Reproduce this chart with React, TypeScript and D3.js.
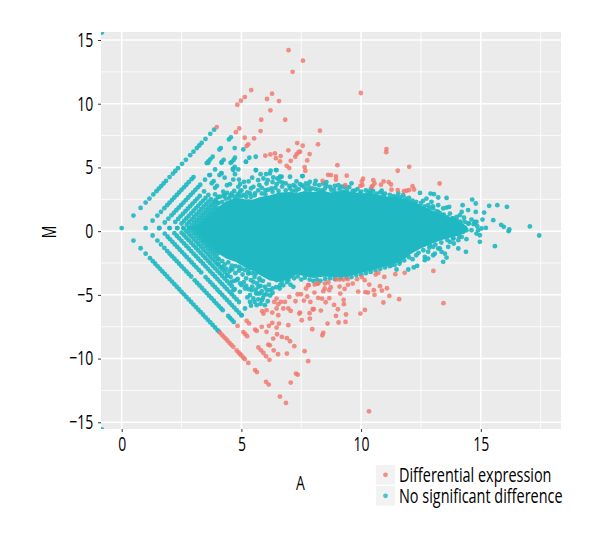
import { useEffect, useRef } from "react";
import * as d3 from "d3";

type Pt = [number, number];

const width = 600;
const height = 540;
const panelLeft = 101;
const panelRight = 561;
const panelTop = 32;
const panelBottom = 429;

const font = "'Open Sans', sans-serif";
const narrow = 0.7; // the original face is condensed, none is installed
const legendNarrow = 0.722;

const majorX = [0, 5, 10, 15];
const minorX = [2.5, 7.5, 12.5, 17.5];
const majorY = [-15, -10, -5, 0, 5, 10, 15];
const minorY = [-12.5, -7.5, -2.5, 2.5, 7.5, 12.5];

const legendLabels = ["Differential expression", "No significant difference"];

// The middle of the cloud is solid from overplotting, single points can't be read there,
// so it is kept as an outline (A, top M, bottom M).
const coreA = [3.05, 3.4, 3.7, 4.1, 4.4, 4.8, 5.1, 5.5, 5.8, 6.2, 6.6, 7, 7.3, 7.6, 8, 8.4, 8.7, 9, 9.4, 9.7, 10.1, 10.4, 10.75, 11.1, 11.45, 11.8, 12.04, 12.46, 13, 13.4, 13.7, 14.1, 14.4];
const coreTop = [0.24, 0.7, 1.25, 1.9, 2.3, 2.55, 2.45, 2.4, 2.6, 2.75, 2.95, 3, 2.9, 3.05, 3, 3.1, 2.95, 3.05, 3.1, 2.95, 2.85, 2.95, 2.75, 2.65, 2.55, 2.45, 2.35, 2, 1.5, 1.2, 1, 0.7, 0.3];
const coreBottom = [0.24, -0.7, -1.2, -1.75, -2.1, -2.35, -2.7, -3.05, -3.4, -3.8, -3.9, -3.7, -3.3, -3.45, -3.6, -3.5, -3.5, -3.55, -3.5, -3.35, -3.15, -3.05, -2.8, -2.65, -2.45, -2.1, -1.75, -1.3, -0.85, -0.6, -0.45, -0.25, 0];

const upperLine0: Pt[] = [[0.49, 1.22], [0.79, 1.82], [1, 2.24], [1.16, 2.56], [1.32, 2.88], [1.45, 3.14], [1.55, 3.34], [1.65, 3.54], [1.75, 3.74], [1.85, 3.94], [2, 4.24], [2.14, 4.52], [2.24, 4.72], [2.35, 4.94], [2.52, 5.28], [2.68, 5.6], [2.86, 5.96], [3, 6.24], [3.14, 6.52], [3.24, 6.72], [3.34, 6.92], [3.5, 7.24], [3.7, 7.64], [3.86, 7.96]];
const upperLine1: Pt[] = [[1, 0.24], [1.29, 0.82], [1.49, 1.22], [1.64, 1.52], [1.78, 1.8], [1.9, 2.04], [2, 2.24], [2.1, 2.44], [2.2, 2.64], [2.3, 2.84], [2.4, 3.04], [2.5, 3.24], [2.6, 3.44], [2.7, 3.64], [2.8, 3.84], [2.92, 4.08], [3, 4.24], [3.55, 5.34], [3.62, 5.48], [3.7, 5.64], [3.8, 5.84], [4.08, 6.4], [4.14, 6.52], [4.48, 7.2], [4.56, 7.36]];
const upperLine2: Pt[] = [[1.57, 0.22], [1.8, 0.68], [1.95, 0.98], [2.08, 1.24], [2.18, 1.44], [2.28, 1.64], [2.38, 1.84], [2.48, 2.04], [2.58, 2.24], [2.68, 2.44], [2.78, 2.64], [2.88, 2.84], [2.98, 3.04], [3.08, 3.24], [3.18, 3.44], [3.28, 3.64], [3.48, 4.04], [3.66, 4.4], [4.18, 5.44], [4.26, 5.6], [4.72, 6.52]];
const upperLine3: Pt[] = [[2, 0.24], [2.24, 0.72], [2.36, 0.96], [2.46, 1.16], [2.56, 1.36], [2.66, 1.56], [2.76, 1.76], [2.86, 1.96], [2.96, 2.16], [3.06, 2.36], [3.16, 2.56], [3.26, 2.76], [3.44, 3.12], [3.76, 3.76], [3.84, 3.92], [4.08, 4.4], [4.16, 4.56], [4.6, 5.44], [4.68, 5.6]];
const upperLine4: Pt[] = [[2.32, 0.24], [2.5, 0.6], [2.6, 0.8], [2.7, 1], [2.8, 1.2], [2.9, 1.4], [3, 1.6], [3.1, 1.8], [3.2, 2], [3.3, 2.2], [3.4, 2.4], [3.5, 2.6], [3.62, 2.84], [3.9, 3.4], [3.98, 3.56], [4.3, 4.2], [4.64, 4.88], [4.72, 5.04]];
const upperLine5: Pt[] = [[2.58, 0.24], [2.72, 0.52], [2.82, 0.72], [2.92, 0.92], [3.02, 1.12], [3.12, 1.32], [3.22, 1.52], [3.32, 1.72], [3.42, 1.92], [3.52, 2.12], [3.62, 2.32], [3.72, 2.52], [3.9, 2.88]];
const upperLine6: Pt[] = [[2.81, 0.24], [2.92, 0.46], [3.02, 0.66], [3.12, 0.86], [3.22, 1.06], [3.32, 1.26], [3.42, 1.46], [3.52, 1.66], [3.62, 1.86], [3.72, 2.06], [3.82, 2.26], [3.92, 2.46], [4.02, 2.66]];
const upperLine7: Pt[] = [[3, 0.24], [3.1, 0.44], [3.2, 0.64], [3.3, 0.84], [3.4, 1.04], [3.5, 1.24], [3.6, 1.44], [3.7, 1.64], [3.8, 1.84], [3.9, 2.04], [4, 2.24]];
const upperLine8: Pt[] = [[3.17, 0.24], [3.27, 0.44], [3.37, 0.64], [3.47, 0.84], [3.57, 1.04], [3.67, 1.24], [3.77, 1.44], [3.87, 1.64], [3.97, 1.84]];

const lowerLine0: Pt[] = [[0.49, -0.74], [0.79, -1.34], [1, -1.76], [1.18, -2.12], [1.3, -2.36], [1.4, -2.56], [1.5, -2.76], [1.6, -2.96], [1.7, -3.16], [1.8, -3.36], [1.9, -3.56], [2, -3.76], [2.1, -3.96], [2.2, -4.16], [2.3, -4.36], [2.4, -4.56], [2.5, -4.76], [2.6, -4.96], [2.7, -5.16], [2.8, -5.36], [2.9, -5.56], [3, -5.76], [3.1, -5.96], [3.2, -6.16], [3.3, -6.36], [3.4, -6.56], [3.5, -6.76], [3.6, -6.96], [3.7, -7.16], [3.8, -7.36], [3.9, -7.56], [4, -7.76], [4.05, -7.86]];
const lowerLine1: Pt[] = [[1.29, -0.34], [1.49, -0.74], [1.64, -1.04], [1.78, -1.32], [1.9, -1.56], [2, -1.76], [2.1, -1.96], [2.2, -2.16], [2.3, -2.36], [2.4, -2.56], [2.5, -2.76], [2.6, -2.96], [2.7, -3.16], [2.8, -3.36], [2.9, -3.56], [3.05, -3.86], [3.15, -4.06], [3.25, -4.26], [3.35, -4.46], [3.45, -4.66], [3.55, -4.86], [3.65, -5.06], [3.75, -5.26], [3.85, -5.46], [3.95, -5.66], [4.05, -5.86], [4.15, -6.06], [4.22, -6.2], [4.45, -6.66], [4.52, -6.8], [4.6, -6.96], [4.68, -7.12]];
const lowerLine2: Pt[] = [[1.57, 0.26], [1.8, -0.2], [1.92, -0.44], [2.02, -0.64], [2.12, -0.84], [2.22, -1.04], [2.32, -1.24], [2.42, -1.44], [2.52, -1.64], [2.62, -1.84], [2.72, -2.04], [2.82, -2.24], [2.92, -2.44], [3.02, -2.64], [3.12, -2.84], [3.22, -3.04], [3.32, -3.24], [3.5, -3.6], [3.6, -3.8], [3.7, -4], [3.8, -4.2], [3.9, -4.4], [4, -4.6], [4.1, -4.8], [4.2, -5], [4.3, -5.2], [4.4, -5.4], [4.5, -5.6], [4.6, -5.8], [4.7, -6], [4.8, -6.2], [4.9, -6.4], [5, -6.6]];
const lowerLine3: Pt[] = [[2, 0.24], [2.2, -0.16], [2.3, -0.36], [2.4, -0.56], [2.5, -0.76], [2.6, -0.96], [2.7, -1.16], [2.8, -1.36], [2.9, -1.56], [3, -1.76], [3.1, -1.96], [3.2, -2.16], [3.3, -2.36], [3.4, -2.56], [3.5, -2.76], [3.6, -2.96], [3.7, -3.16], [3.8, -3.36], [3.9, -3.56], [4, -3.76], [4.1, -3.96], [4.2, -4.16], [4.3, -4.36], [4.4, -4.56], [4.5, -4.76], [4.6, -4.96], [4.7, -5.16], [4.8, -5.36], [4.9, -5.56]];
const lowerLine4: Pt[] = [[2.32, 0.24], [2.5, -0.12], [2.6, -0.32], [2.7, -0.52], [2.8, -0.72], [2.9, -0.92], [3, -1.12], [3.1, -1.32], [3.2, -1.52], [3.3, -1.72], [3.4, -1.92], [3.5, -2.12], [3.6, -2.32], [3.7, -2.52], [3.8, -2.72], [3.9, -2.92], [4, -3.12], [4.1, -3.32], [4.2, -3.52], [4.3, -3.72], [4.4, -3.92], [4.5, -4.12], [4.6, -4.32], [4.72, -4.56]];
const lowerLine5: Pt[] = [[2.58, 0.24], [2.7, 0], [2.8, -0.2], [2.9, -0.4], [3, -0.6], [3.1, -0.8], [3.2, -1], [3.3, -1.2], [3.4, -1.4], [3.5, -1.6], [3.6, -1.8], [3.7, -2], [3.8, -2.2], [3.9, -2.4], [4, -2.6], [4.1, -2.8], [4.2, -3], [4.3, -3.2], [4.42, -3.44]];
const lowerLine6: Pt[] = [[2.81, 0.24], [2.9, 0.06], [3, -0.14], [3.1, -0.34], [3.2, -0.54], [3.3, -0.74], [3.4, -0.94], [3.5, -1.14], [3.6, -1.34], [3.7, -1.54], [3.8, -1.74], [3.9, -1.94], [4, -2.14]];
const lowerLine7: Pt[] = [[3, 0.24], [3.1, 0.04], [3.2, -0.16], [3.3, -0.36], [3.4, -0.56], [3.5, -0.76], [3.6, -0.96], [3.7, -1.16], [3.8, -1.36], [3.9, -1.56], [4, -1.76]];

const cornerPoints: Pt[] = [[0, 0.24], [-0.83, 15.58], [-0.83, -15.55]];

const fringeLeftTop: Pt[] = [[3.62, 5.36], [4.17, 5.36], [4.55, 5.36], [5.19, 5.44], [4.66, 4.79], [4.87, 4.84], [4.73, 4.47], [4.17, 4.53], [3.69, 4.4], [5.61, 4.79], [5.8, 4.47], [5.92, 4.13], [6.19, 4.53], [6.47, 4.79], [6.5, 4.13], [4.66, 4.05], [4.9, 4.05], [4.52, 3.69], [5.11, 3.87], [5.15, 3.48], [4.87, 3.48], [5.5, 3.48], [5.75, 3.61], [6.05, 3.74], [6, 3.22], [6.26, 3.35], [6.47, 3.69], [5.36, 2.96], [5.57, 2.96], [5.85, 2.96], [4.24, 3.09], [4.6, 2.96], [4.94, 3.09], [3.9, 2.3], [4.1, 2.7], [4.3, 2.83], [3.9, 4.84], [4.73, 5.76], [5.08, 6.41], [5.33, 5.76], [5.19, 5.45], [5.6, 5.84], [5.6, 4.79], [6.22, 4.74], [6.44, 4.79], [6.03, 4.48], [7.03, 4.27], [6.33, 4.21], [6.68, 4.27], [7.54, 4.32], [4.4, 3.6], [4.95, 3.7], [5.3, 3.9], [5.45, 4.2], [5.7, 4], [6.1, 4], [6.3, 3.85], [6.6, 3.9], [6.85, 3.75], [7.3, 3.9], [7.7, 3.75], [8.1, 3.95], [8.55, 3.85], [9.6, 3.75], [4.05, 2.2], [4.2, 2.3], [4.35, 2.55], [4.5, 2.6], [4.7, 2.7], [4.85, 2.7], [5, 2.75], [5.2, 2.7], [5.4, 2.7]];
const fringeMidTop: Pt[] = [[6.61, 4.27], [7.56, 4.32], [6.72, 3.8], [7.17, 3.61], [7.45, 3.69], [7.61, 3.48], [7.86, 3.87], [8.07, 3.69], [8.42, 3.74], [8.7, 3.48], [9.05, 3.61], [9.32, 3.48], [8.88, 3.22], [9.74, 3.17], [9.95, 2.96], [10.4, 3.27], [10.86, 3.17], [11.55, 2.96], [11.76, 2.82], [7.03, 3.35], [8.21, 3.22], [8.49, 3.35], [7.28, 3.17], [7.86, 3.22], [9.25, 3.09], [10.93, 2.82], [10.37, 2.96], [10.16, 2.82], [8.42, 3.09], [11.41, 2.56]];
const ridgeTop: Pt[] = [[4.25, 2.75], [4.4, 3], [4.55, 2.8], [4.7, 3.15], [4.85, 2.9], [5, 3.2], [5.1, 2.85], [5.25, 3.05], [5.4, 3.35], [5.55, 2.8], [5.7, 3.2], [5.85, 3.4], [6, 2.9], [6.12, 3.25], [6.3, 3.1], [6.42, 3.4], [6.55, 3.15], [6.7, 3.5], [6.85, 3.2], [7, 3.55], [7.12, 3.15], [7.25, 3.5], [7.4, 3.3], [7.52, 3.6], [7.7, 3.25], [7.8, 3.55], [7.95, 3.35], [8.1, 3.3], [8.25, 3.6], [8.35, 3.2], [8.55, 3.55], [8.75, 3.25], [8.9, 3.55], [9.1, 3.3], [9.2, 3.5], [9.4, 3.2], [9.5, 3.45], [9.65, 3.15], [9.85, 3.3], [10, 3.1], [10.2, 3.2], [10.3, 3.05], [10.5, 3.15], [10.65, 2.95], [10.8, 3.05], [11, 2.95], [11.2, 2.85], [11.35, 2.75], [11.5, 2.7], [11.65, 2.65], [11.85, 2.55], [12, 2.6], [12.15, 2.4], [12.3, 2.3], [12.5, 2.2], [12.65, 1.95], [12.85, 1.8], [13, 1.95], [13.15, 1.55], [13.3, 1.4], [13.45, 1.3], [13.6, 1.1], [13.8, 1], [14, 0.85], [14.15, 0.75], [14.3, 1.05], [14.5, 0.6], [14.7, 0.55], [14.85, 0.4]];
const ridgeBottom: Pt[] = [[4.2, -2.8], [4.35, -2.95], [4.5, -3.15], [4.62, -3], [4.75, -3.3], [4.9, -3.1], [5.05, -3.4], [5.2, -3.7], [5.3, -3.3], [5.4, -3.85], [5.55, -3.6], [5.65, -4.1], [5.8, -4.3], [5.9, -3.9], [6.05, -4.6], [6.15, -4.2], [6.3, -4.5], [6.45, -4.4], [6.6, -4.5], [6.75, -4.25], [6.9, -4], [7.05, -4.2], [7.2, -3.7], [7.35, -3.55], [7.5, -3.8], [7.65, -3.65], [7.85, -3.8], [8, -3.9], [8.15, -3.8], [8.3, -3.9], [8.5, -3.75], [8.7, -3.7], [8.9, -3.75], [9.15, -3.7], [9.4, -3.65], [9.6, -3.6], [9.8, -3.45], [10, -3.4], [10.2, -3.3], [10.4, -3.2], [10.6, -3.05], [10.8, -2.95], [11, -2.85], [11.2, -2.75], [11.4, -2.65], [11.6, -2.55], [11.8, -2.3], [12, -2.05], [12.15, -2.2], [12.4, -1.7], [12.6, -1.5], [12.85, -1.3], [13.1, -1.05], [13.35, -0.9], [13.6, -0.7], [13.85, -0.55], [14.1, -0.45], [4.05, -2.2], [4.2, -2.35], [4.3, -2.6], [4.45, -2.45], [4.6, -2.7], [4.75, -2.75], [4.9, -2.8], [5, -2.95], [5.15, -3.05], [5.3, -3], [5.45, -3.3], [5.6, -3.35], [5.75, -3.7], [4.05, -2.55], [4.55, -2.95]];
const fringeRight: Pt[] = [[12.46, 3], [12.9, 2.95], [13.04, 2.9], [13.22, 2.64], [13.57, 2.61], [13.68, 1.91], [13.57, 1.85], [13.22, 2.04], [14.24, 2.04], [14.64, 2.48], [14.79, 2.17], [14.47, 1.65], [14.79, 1.51], [15.14, 1.46], [15.35, 1.99], [15.69, 2.04], [16.09, 1.91], [15.52, 0.86], [15.07, 0.91], [14.2, 1.51], [13.99, 1.12], [13.71, 1.38], [13.43, 1.78], [12.94, 2.3], [12.73, 2.56], [14.61, 0.91], [14.82, 0.73], [15.21, 0.26], [15.59, -1.18], [14.96, -0.32], [14.96, -0.84], [14.4, -0.63], [14.2, -0.45], [14.38, -1.62], [14.06, -1.36], [13.87, -0.97], [13.57, -2.07], [13.43, -2.41], [13.5, -1.76], [13.08, -1.76], [12.8, -2.15], [12.66, -2.02], [12.3, -1.89], [12.34, -2.72], [12.2, -2.85], [11.97, -3.01], [13.29, -1.36], [13.01, -1.23], [15.85, 0.5], [15.96, 0.34], [16.19, 0.13], [16.16, 0], [17.05, 0.37], [17.44, -0.34]];
const tailPoints: Pt[] = [[13.92, 0.86], [14.13, 1.25], [14.33, 0.73], [14.47, 0.6], [14.75, 0.73], [14.89, 0.08], [15.03, 0.21], [14.82, -0.19], [14.61, 0.08], [14.4, 0.08], [14.26, -0.05], [14.06, -0.71], [13.85, -0.58], [13.71, -0.84], [13.64, -1.23], [13.36, -1.62], [13.22, -1.36], [13.01, -1.89], [12.8, -1.62], [12.66, -2.28], [12.87, -1.1], [13.92, 0.6], [13.71, 0.73], [13.71, 0.34], [13.43, 1.25], [13.22, 1.51], [13.01, 1.78], [12.8, 2.04], [12.59, 2.38], [14.13, 0.6], [13.85, 1]];
const fringeBottom: Pt[] = [[4.59, -3.98], [4.8, -3.85], [5.01, -4.24], [5.15, -4.5], [5.29, -3.32], [5.5, -3.98], [5.71, -4.37], [5.78, -4.89], [5.85, -5.42], [5.5, -5.28], [5.64, -5.81], [5.36, -5.55], [5.15, -6.07], [5.01, -6.59], [5.36, -5.02], [5.98, -4.37], [6.19, -4.63], [6.47, -3.85], [5.78, -3.85], [5.43, -4.63], [4.66, -4.63], [4.94, -4.76], [6.61, -4.24], [5.98, -5.81], [5.61, -4.89], [7.17, -4.37], [6.96, -3.85], [6.68, -3.98], [11.48, -3.01], [11.27, -2.67], [11.62, -2.41], [4.4, -3.5], [4.55, -3.6], [4.7, -3.9], [4.85, -3.75], [4.95, -4.1], [5.1, -4], [5.2, -4.3], [5.3, -4.55], [5.45, -4.35], [5.6, -4.6], [5.7, -4.9], [5.85, -4.7], [5.95, -5], [6.05, -4.95], [6.2, -5.05], [5.25, -5.2], [5.4, -5.85], [5.55, -5.55], [5.7, -5.35], [5.8, -5.7], [5.9, -5.25], [6.1, -5.5], [6.3, -4.85]];

const redTop: Pt[] = [[6.97, 14.2], [7.14, 12.5], [5.41, 11.07], [6.28, 10.79], [5.14, 10.52], [4.98, 10.24], [4.83, 9.92], [6.07, 10.37], [6.57, 10.21], [6.21, 9.48], [5.83, 8.74], [6.83, 8.74], [5.8, 7.85], [4.91, 8.06], [4.77, 7.77], [5.14, 7.33], [5.53, 7.28], [5.29, 6.81], [5.22, 6.68], [3.97, 8.17], [7.33, 6.91], [6.96, 6.34], [7.39, 6.2], [7.31, 6.05], [7.25, 5.84], [6, 5.92], [6.21, 6.02], [6.4, 6.1], [6.44, 5.73], [6.64, 5.89], [6.61, 5.47], [7.06, 5.52], [6.89, 5.13], [7, 4.95], [7.57, 13.38], [9.99, 10.84], [8.28, 7.88], [7.56, 6.7], [8.2, 6.81], [7.85, 6.05], [7.75, 5.55], [7.64, 5.03], [7.67, 4.74], [7.45, 6.23], [9.01, 5.18], [8.62, 4.42], [8.74, 4.4], [8.95, 4.29], [8.95, 4.03], [9.4, 4.35], [8.39, 3.95], [10.08, 4.11], [10.03, 3.9], [9.97, 3.56], [10.05, 3.61], [9.34, 3.61], [10.51, 4], [10.56, 3.74], [10.48, 3.56], [10.44, 3.48], [10.83, 3.64], [10.94, 3.9], [11.15, 3.85], [11.25, 3.66], [11.27, 3.25], [11.53, 3.22], [11.79, 3.14], [11.9, 3.17], [12.01, 3.22], [12.15, 3.53], [12.21, 3.27], [11.53, 4.74], [12.01, 5.05], [11.06, 6.44], [11.05, 6.2], [13.28, 3.74]];
const redBottomRight: Pt[] = [[13.02, -3.12], [13.44, -5.65], [10.33, -14.14], [7.79, -10.2], [7.64, -9.42], [8.38, -8.17], [8.42, -7.98], [7.96, -7.7], [7.86, -6.86], [7.85, -6.44], [7.52, -6.99], [7.45, -6.39], [8.6, -7.25], [9.06, -7.17], [9.35, -7.12], [9.37, -6.54], [8.95, -6.65], [8.32, -6.23], [8.02, -6.13], [7.98, -6.13], [9.03, -6.13], [9.28, -5.73], [9.27, -5.39], [8.87, -5.79], [8.67, -5.26], [8.52, -5.58], [8.37, -5.29], [8.21, -5.24], [7.88, -5.55], [7.61, -5.45], [7.75, -5.13], [7.49, -4.95], [9.97, -6.47], [10.16, -6.18], [11.59, -5.34], [10.93, -5.6], [11.18, -5.08], [10.56, -5], [10.53, -4.63], [10.87, -4.66], [10.79, -4.32], [11.08, -4.48], [10.18, -4.79], [10.29, -4.82], [9.88, -4.74], [10.34, -4.19], [10.15, -3.85], [10.03, -3.61], [9.83, -3.77], [9.65, -4.11], [9.45, -4.21], [9.31, -4.53], [9.13, -4.9], [9.1, -4.35], [9.44, -3.77], [9.26, -3.8], [9.09, -3.8], [8.94, -3.8], [8.73, -4.4], [8.67, -4.63], [8.48, -4.5], [8.42, -4.71], [8.49, -4.11], [8.63, -4.03], [8.17, -4.11], [8.06, -4.19], [8.05, -4.82], [7.81, -4.24], [7.7, -4.5], [10.72, -3.27], [10.61, -3.4], [10.97, -3.59], [11.43, -3.38], [11.82, -3.27], [7.79, -4.24], [8.21, -4.11]];
const redDiagonal: Pt[] = [[4.1, -7.96], [4.18, -8.12], [4.26, -8.28], [4.34, -8.44], [4.42, -8.6], [4.5, -8.76], [4.58, -8.92], [4.66, -9.08], [4.8, -9.36], [4.88, -9.52], [4.94, -9.64], [5, -9.76], [5.08, -9.92], [5.14, -10.04], [5.29, -10.34], [5.57, -10.9], [5.65, -11.06], [6.03, -11.82], [6.14, -12.04], [6.61, -12.98], [6.86, -13.48], [4.84, -7.44], [5.08, -7.92], [5.16, -8.08], [5.24, -8.24], [5.22, -7.04], [5.32, -7.24]];
const redBottomLeft: Pt[] = [[5.71, -9.13], [5.82, -9.35], [5.92, -9.56], [6.03, -9.82], [6.17, -10.1], [5.57, -7.72], [5.64, -7.83], [7.06, -11.88], [7.28, -11.18], [7.35, -11.26], [6.9, -9.61], [6.53, -9.66], [6.35, -9.35], [6.12, -8.9], [6.19, -8.96], [7.21, -9.03], [7.03, -8.64], [6.9, -8.4], [6.33, -8.43], [6.49, -8.09], [6.69, -8.3], [6.05, -7.9], [5.85, -7.51], [6.15, -7.43], [6.47, -7.57], [6.29, -7.2], [6.57, -7.25], [6.96, -7.38], [5.92, -6.47], [6.05, -6.2], [5.87, -6.28], [6.29, -6.39], [6.54, -6.6], [6.47, -6.07], [6.54, -5.73], [6.37, -5.55], [6.47, -5.29], [6.65, -5.55], [6.82, -5.55], [7, -5.16], [6.75, -6.07], [6.96, -6.07], [7.06, -6.26], [7.26, -5.5], [7.35, -4.95], [7.42, -6.47]];

const bluePoints: Pt[] = [
  ...upperLine0, ...upperLine1, ...upperLine2, ...upperLine3, ...upperLine4, ...upperLine5, ...upperLine6, ...upperLine7, ...upperLine8,
  ...lowerLine0, ...lowerLine1, ...lowerLine2, ...lowerLine3, ...lowerLine4, ...lowerLine5, ...lowerLine6, ...lowerLine7,
  ...cornerPoints, ...fringeLeftTop, ...fringeMidTop, ...ridgeTop, ...ridgeBottom, ...fringeRight, ...tailPoints, ...fringeBottom,
];
const redPoints: Pt[] = [...redTop, ...redBottomRight, ...redDiagonal, ...redBottomLeft];

const blue = "#1fb8c2";
const red = "#f0766c";

const x = d3.scaleLinear().domain([0, 15]).range([121.7, 480.8]);
const y = d3.scaleLinear().domain([-15, 15]).range([422.3, 40]);

export default function App() {
  const xAxisRef = useRef<SVGGElement>(null);
  const yAxisRef = useRef<SVGGElement>(null);

  useEffect(() => {
    const style = (g: any) => {
      g.select(".domain").remove();
      g.selectAll("line").attr("stroke", "#333");
      g.selectAll("text")
        .attr("font-family", font)
        .attr("font-size", 20)
        .attr("fill", "#000")
        .attr("transform", `scale(${narrow},1)`);
    };
    d3.select(xAxisRef.current as SVGGElement)
      .call(d3.axisBottom(x).tickValues(majorX).tickFormat(d3.format("d")).tickSize(3).tickPadding(5) as any)
      .call(style);
    d3.select(yAxisRef.current as SVGGElement)
      .call(d3.axisLeft(y).tickValues(majorY).tickFormat(d3.format("d")).tickSize(3).tickPadding(8) as any)
      .call(style);
  }, []);

  const core = d3
    .area<number>()
    .x((d) => x(d))
    .y0((_, i) => y(coreBottom[i]))
    .y1((_, i) => y(coreTop[i]));

  return (
    <svg width={width} height={height} style={{ position: "absolute", left: 0, top: 0 }}>
      <defs>
        <clipPath id="panel">
          <rect x={panelLeft} y={panelTop} width={panelRight - panelLeft} height={panelBottom - panelTop} />
        </clipPath>
      </defs>
      <rect width={width} height={height} fill="#fff" />
      <rect x={panelLeft} y={panelTop} width={panelRight - panelLeft} height={panelBottom - panelTop} fill="#ebebeb" />

      <g stroke="#fff">
        {minorX.map((d) => (
          <line key={d} x1={x(d)} x2={x(d)} y1={panelTop} y2={panelBottom} strokeWidth={0.8} />
        ))}
        {minorY.map((d) => (
          <line key={d} x1={panelLeft} x2={panelRight} y1={y(d)} y2={y(d)} strokeWidth={0.8} />
        ))}
        {majorX.map((d) => (
          <line key={d} x1={x(d)} x2={x(d)} y1={panelTop} y2={panelBottom} strokeWidth={1.5} />
        ))}
        {majorY.map((d) => (
          <line key={d} x1={panelLeft} x2={panelRight} y1={y(d)} y2={y(d)} strokeWidth={1.5} />
        ))}
      </g>

      <g clipPath="url(#panel)">
        <path d={core(coreA) ?? undefined} fill={blue} stroke={blue} strokeWidth={2} />
        <g fill={blue} fillOpacity={0.92}>
          {bluePoints.map((d, i) => (
            <circle key={i} cx={x(d[0])} cy={y(d[1])} r={2.4} />
          ))}
        </g>
        <g fill={red} fillOpacity={0.8}>
          {redPoints.map((d, i) => (
            <circle key={i} cx={x(d[0])} cy={y(d[1])} r={2.4} />
          ))}
        </g>
      </g>

      <g ref={xAxisRef} transform={`translate(0,${panelBottom})`} />
      <g ref={yAxisRef} transform={`translate(${panelLeft},0)`} />

      <text transform={`translate(300.5,490) scale(${narrow},1)`} textAnchor="middle" fontFamily={font} fontSize={20} fill="#000">A</text>
      <text transform={`translate(56,232) rotate(-90) scale(${narrow},1)`} textAnchor="middle" fontFamily={font} fontSize={20} fill="#000">M</text>

      {legendLabels.map((label, i) => (
        <g key={label} transform={`translate(376,${465 + i * 21})`}>
          <rect width={19} height={19.6} fill="#f2f2f2" />
          <circle cx={9.5} cy={9.8} r={2.4} fill={i === 0 ? red : blue} fillOpacity={0.8} />
          <text transform={`translate(23,17.2) scale(${legendNarrow},1)`} fontFamily={font} fontSize={20} fill="#000">{label}</text>
        </g>
      ))}
    </svg>
  );
}
